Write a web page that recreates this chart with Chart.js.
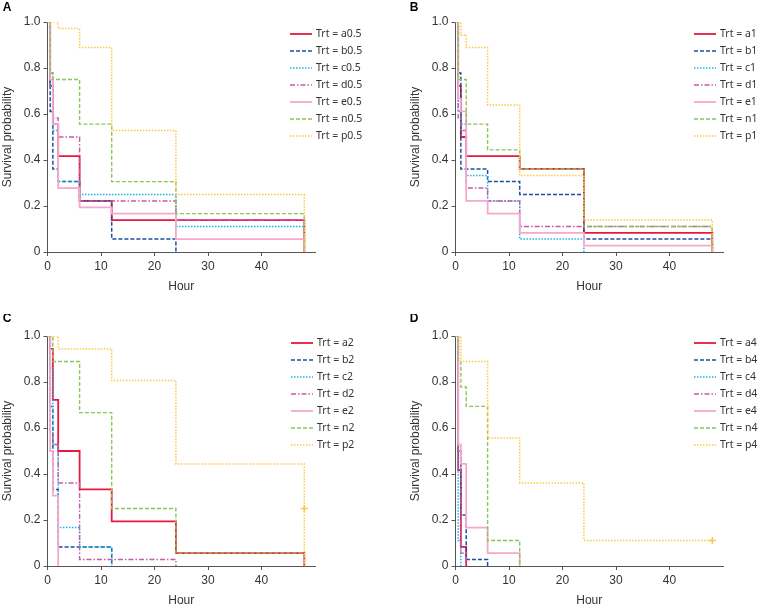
<!DOCTYPE html>
<html>
<head>
<meta charset="utf-8">
<script src="https://cdn.jsdelivr.net/npm/chart.js@4.4.0/dist/chart.umd.min.js"></script>
<style>
  html, body { margin: 0; padding: 0; background: #fff; }
  body { width: 758px; height: 607px; position: relative; overflow: hidden; }
  canvas { position: absolute; }
</style>
</head>
<body>
<canvas id="pA" width="379" height="293" style="left:0;top:0"></canvas>
<canvas id="pB" width="379" height="293" style="left:379px;top:0"></canvas>
<canvas id="pC" width="379" height="293" style="left:0;top:314px"></canvas>
<canvas id="pD" width="379" height="293" style="left:379px;top:314px"></canvas>
<script>
var hours = [0, 0.5, 1, 2, 6, 12, 24, 48];
var arms = ['a', 'b', 'c', 'd', 'e', 'n', 'p'];
var doses = ['0.5', '1', '2', '4'];
var xTicks = [0, 10, 20, 30, 40];
var yTicks = [0, 0.2, 0.4, 0.6, 0.8, 1];

// survival estimate at each hour (rows = arms a..p), null once the curve has ended
var survA = [
  [1, 0.722, 0.556, 0.417, 0.222, 0.139, 0.139, 0],
  [1, 0.611, 0.361, 0.306, 0.222, 0.056, 0, null],
  [1, 0.722, 0.528, 0.306, 0.25, 0.25, 0.111, 0],
  [1, 0.778, 0.583, 0.5, 0.222, 0.222, 0.139, 0],
  [1, 0.75, 0.556, 0.278, 0.194, 0.167, 0.056, 0],
  [1, 0.778, 0.75, 0.75, 0.556, 0.306, 0.167, 0],
  [1, 1, 1, 0.972, 0.889, 0.528, 0.25, 0]
];
var survB = [
  [1, 0.722, 0.5, 0.417, 0.417, 0.361, 0.083, 0],
  [1, 0.778, 0.361, 0.361, 0.306, 0.25, 0.056, 0],
  [1, 0.611, 0.556, 0.333, 0.222, 0.056, 0, null],
  [1, 0.583, 0.528, 0.278, 0.222, 0.111, 0.111, 0],
  [1, 0.667, 0.611, 0.222, 0.167, 0.083, 0.028, 0],
  [1, 0.75, 0.75, 0.556, 0.444, 0.361, 0.111, 0],
  [1, 1, 0.944, 0.889, 0.639, 0.333, 0.139, 0]
];
var survC = [
  [1, 0.944, 0.722, 0.5, 0.333, 0.194, 0.056, 0],
  [1, 0.694, 0.333, 0.083, 0.083, 0, null, null],
  [1, 0.861, 0.528, 0.167, 0.083, 0, null, null],
  [1, 0.583, 0.528, 0.361, 0.028, 0.028, 0, null],
  [1, 0.5, 0.306, 0, null, null, null, null],
  [1, 1, 0.889, 0.889, 0.667, 0.25, 0.056, 0],
  [1, 1, 1, 0.944, 0.944, 0.806, 0.444, 0]
];
var survD = [
  [1, 0.417, 0.083, 0, null, null, null, null],
  [1, 0.5, 0.222, 0.028, 0, null, null, null],
  [1, 0.111, 0, null, null, null, null, null],
  [1, 0.5, 0.056, 0, null, null, null, null],
  [1, 0.528, 0.444, 0.167, 0.056, 0, null, null],
  [1, 0.889, 0.778, 0.694, 0.111, 0, null, null],
  [1, 1, 0.889, 0.889, 0.556, 0.361, 0.111, 0.111]
];
// censor marks [hour, survival] on the p curve
var censorC = [[48, 0.25]];
var censorD = [[48, 0.111]];

var colors = ['#e8193f', '#1d4f9e', '#1db3e8', '#c45aa8', '#f5a8cb', '#8cc657', '#fec843'];
var dashes = [[], [4, 2], [1.5, 1.5], [5, 2, 1.5, 2], [], [4, 2], [1.5, 1.5]];
var widths = [1.8, 1.5, 1.5, 1.4, 1.8, 1.4, 1.5];

var tickFont = { family: '"Liberation Sans", Arial, sans-serif', size: 12 };

var decor = {
  id: 'decor',
  afterDraw: function (chart, args, o) {
    var ctx = chart.ctx, area = chart.chartArea;
    ctx.save();
    ctx.textAlign = 'center';
    ctx.textBaseline = 'middle';
    ctx.fillStyle = '#000';
    ctx.font = 'bold 12px "Liberation Sans", Arial, sans-serif';
    ctx.fillText(o.letter, o.letterX, o.letterY);
    ctx.fillStyle = '#333';
    ctx.font = '12px "Liberation Sans", Arial, sans-serif';
    ctx.fillText('Hour', (area.left + area.right) / 2, 287);
    ctx.save();
    ctx.translate(area.left - 40, (area.top + area.bottom) / 2);
    ctx.rotate(-Math.PI / 2);
    ctx.fillText('Survival probability', 0, 0);
    ctx.restore();

    // legend
    ctx.textAlign = 'left';
    ctx.font = '10.5px "Noto Sans", sans-serif';
    var row = 0;
    chart.data.datasets.forEach(function (ds) {
      if (!ds.label) return;
      var y = o.legendY + row * 17;
      ctx.beginPath();
      ctx.setLineDash(ds.borderDash);
      ctx.strokeStyle = ds.borderColor;
      ctx.lineWidth = ds.borderWidth;
      ctx.moveTo(o.legendX, y);
      ctx.lineTo(o.legendX + 22, y);
      ctx.stroke();
      ctx.setLineDash([]);
      ctx.fillStyle = '#333';
      ctx.fillText(ds.label, o.legendX + 26, y);
      row++;
    });
    ctx.restore();
  }
};

function makePanel(id, surv, dose, censor, left, letter, letterX, letterY, legendX, legendY) {
  var datasets = surv.map(function (vals, i) {
    var pts = [];
    vals.forEach(function (v, j) {
      if (v !== null) pts.push({ x: hours[j], y: v });
    });
    return {
      label: 'Trt = ' + arms[i] + dose,
      data: pts,
      stepped: true,
      borderColor: colors[i],
      borderDash: dashes[i],
      borderWidth: widths[i],
      pointRadius: 0,
      fill: false,
      order: 10 - i
    };
  });
  if (censor) {
    datasets.push({
      data: censor.map(function (c) { return { x: c[0], y: c[1] }; }),
      showLine: false,
      pointStyle: 'cross',
      pointRadius: 3.5,
      pointBorderColor: colors[6],
      borderColor: colors[6],
      pointBorderWidth: 1.5,
      order: 0
    });
  }
  var right = left + 267.5;
  new Chart(document.getElementById(id), {
    type: 'line',
    data: { datasets: datasets },
    options: {
      responsive: false,
      animation: false,
      devicePixelRatio: 1,
      layout: { padding: { left: left - 40, right: 379 - right, top: 22, bottom: 293 - 252 - 25 } },
      plugins: {
        legend: { display: false },
        tooltip: { enabled: false },
        decor: { letter: letter, letterX: letterX, letterY: letterY, legendX: legendX, legendY: legendY }
      },
      scales: {
        x: {
          type: 'linear', min: 0, max: 50,
          afterFit: function (a) { a.height = 25; },
          afterBuildTicks: function (a) { a.ticks = xTicks.map(function (v) { return { value: v }; }); },
          grid: { drawOnChartArea: false, drawTicks: true, tickLength: 4, color: '#555' },
          border: { display: true, color: '#555', width: 1 },
          ticks: { font: tickFont, color: '#333', padding: 3, maxRotation: 0 }
        },
        y: {
          type: 'linear', min: 0, max: 1,
          afterFit: function (a) { a.width = 40; },
          afterBuildTicks: function (a) { a.ticks = yTicks.map(function (v) { return { value: v }; }); },
          grid: { drawOnChartArea: false, drawTicks: true, tickLength: 4, color: '#555' },
          border: { display: true, color: '#555', width: 1 },
          ticks: {
            font: tickFont, color: '#333', padding: 3,
            callback: function (v) { return v === 0 ? '0' : v.toFixed(1); }
          }
        }
      }
    },
    plugins: [decor]
  });
}

makePanel('pA', survA, doses[0], null, 47.5, 'A', 7, 8, 290, 34);
makePanel('pB', survB, doses[1], null, 76.5, 'B', 35, 8, 315, 34);
makePanel('pC', survC, doses[2], censorC, 47.5, 'C', 7, 5, 291, 29);
makePanel('pD', survD, doses[3], censorD, 76.5, 'D', 35, 5, 315, 29);
</script>
</body>
</html>
